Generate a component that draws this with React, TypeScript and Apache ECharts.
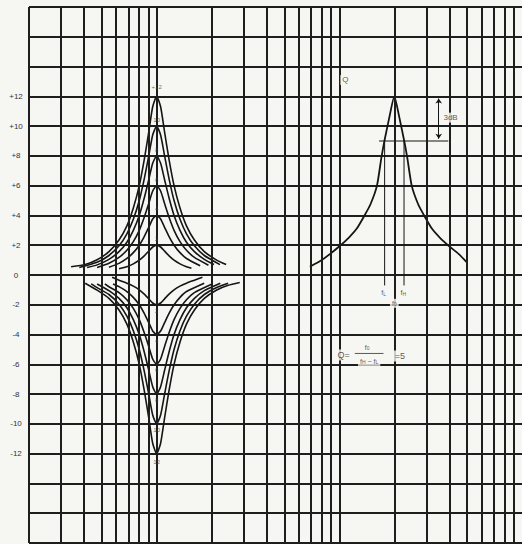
import React, { useEffect, useRef } from 'react';
import * as echarts from 'echarts';

// Log graph paper: vertical rulings (Hz) and level range (dB)
const paperFreqs = [20, 30, 40, 50, 60, 70, 80, 90, 100, 200, 300, 400, 500, 600, 700, 800, 900, 1000, 2000, 3000, 4000, 5000, 6000, 7000, 8000, 9000];
const freqMin = 20;
const freqMax = 10000;
const dbMin = -18;
const dbMax = 18;
const dbStep = 2;
const labelledLimit = 12;

// Boost curves of the 100 Hz band, [Hz, dB]
const boost12 = [[34, 0.55], [40.6, 0.7], [47.2, 1.02], [54.8, 1.57], [62.2, 2.35], [68.7, 3.3], [74.5, 4.5], [80.3, 6.0], [85.5, 7.75], [90.5, 9.6], [95.1, 11.3], [100, 12], [105.1, 11.3], [110.5, 9.6], [116.9, 7.75], [124.5, 6.0], [134.2, 4.5], [145.6, 3.3], [160.9, 2.35], [182.3, 1.57], [211.9, 1.02], [240, 0.7]];
const boost10 = [[37.7, 0.5], [47.2, 0.85], [54.8, 1.31], [62.2, 1.96], [68.7, 2.77], [74.5, 3.74], [80.3, 5.0], [85.5, 6.46], [90.5, 8.0], [95.1, 9.4], [100, 10], [105.1, 9.4], [110.5, 8.0], [116.9, 6.46], [124.5, 5.0], [134.2, 3.74], [145.6, 2.77], [160.9, 1.96], [182.3, 1.31], [222, 0.7]];
const boost8 = [[41.6, 0.5], [47.2, 0.68], [54.8, 1.05], [62.2, 1.57], [68.7, 2.2], [74.5, 3.0], [80.3, 4.0], [85.5, 5.17], [90.5, 6.4], [95.1, 7.5], [100, 8], [105.1, 7.5], [110.5, 6.4], [116.9, 5.17], [124.5, 4.0], [134.2, 3.0], [145.6, 2.2], [160.9, 1.57], [182.3, 1.05], [206, 0.7]];
const boost6 = [[47.2, 0.51], [54.8, 0.79], [62.2, 1.18], [68.7, 1.66], [74.5, 2.24], [80.3, 3.0], [85.5, 3.88], [90.5, 4.8], [95.1, 5.64], [100, 6], [105.1, 5.64], [110.5, 4.8], [116.9, 3.88], [124.5, 3.0], [134.2, 2.24], [145.6, 1.66], [160.9, 1.18], [192, 0.66]];
const boost4 = [[54.8, 0.52], [62.2, 0.78], [68.7, 1.11], [74.5, 1.5], [80.3, 2.0], [85.5, 2.58], [90.5, 3.2], [95.1, 3.76], [100, 4], [105.1, 3.76], [110.5, 3.2], [116.9, 2.58], [124.5, 2.0], [134.2, 1.5], [145.6, 1.11], [173, 0.62]];
const boost2 = [[62.2, 0.42], [68.7, 0.55], [74.5, 0.75], [80.3, 1.0], [85.5, 1.29], [90.5, 1.6], [95.1, 1.88], [100, 2], [105.1, 1.88], [110.5, 1.6], [116.9, 1.29], [124.5, 1.0], [134.2, 0.75], [145.6, 0.55], [155, 0.45]];

// Cut curves of the 100 Hz band, [Hz, dB]
const cut12 = [[40.6, -0.55], [47.2, -1.02], [54.8, -1.57], [62.2, -2.35], [68.7, -3.3], [74.5, -4.5], [80.3, -6.0], [85.5, -7.75], [90.5, -9.6], [95.1, -11.3], [100, -12], [105.1, -11.3], [110.5, -9.6], [116.9, -7.75], [124.5, -6.0], [134.2, -4.5], [145.6, -3.3], [160.9, -2.35], [182.3, -1.57], [211.9, -1.02], [246.3, -0.69], [285, -0.5]];
const cut10 = [[43.8, -0.6], [47.2, -0.85], [54.8, -1.31], [62.2, -1.96], [68.7, -2.77], [74.5, -3.74], [80.3, -5.0], [85.5, -6.46], [90.5, -8.0], [95.1, -9.4], [100, -10], [105.1, -9.4], [110.5, -8.0], [116.9, -6.46], [124.5, -5.0], [134.2, -3.74], [145.6, -2.77], [160.9, -1.96], [182.3, -1.31], [211.9, -0.85], [246, -0.55]];
const cut8 = [[47.2, -0.6], [54.8, -1.05], [62.2, -1.57], [68.7, -2.2], [74.5, -3.0], [80.3, -4.0], [85.5, -5.17], [90.5, -6.4], [95.1, -7.5], [100, -8], [105.1, -7.5], [110.5, -6.4], [116.9, -5.17], [124.5, -4.0], [134.2, -3.0], [145.6, -2.2], [160.9, -1.57], [182.3, -1.05], [223, -0.55]];
const cut6 = [[52, -0.6], [54.8, -0.79], [62.2, -1.18], [68.7, -1.66], [74.5, -2.24], [80.3, -3.0], [85.5, -3.88], [90.5, -4.8], [95.1, -5.64], [100, -6], [105.1, -5.64], [110.5, -4.8], [116.9, -3.88], [124.5, -3.0], [134.2, -2.24], [145.6, -1.66], [160.9, -1.18], [201, -0.6]];
const cut4 = [[57.7, -0.6], [62.2, -0.78], [68.7, -1.11], [74.5, -1.5], [80.3, -2.0], [85.5, -2.58], [90.5, -3.2], [95.1, -3.76], [100, -4], [105.1, -3.76], [110.5, -3.2], [116.9, -2.58], [124.5, -2.0], [134.2, -1.5], [145.6, -1.11], [182, -0.55]];
const cut2 = [[57, -0.15], [62.2, -0.35], [68.7, -0.55], [74.5, -0.75], [80.3, -1.0], [85.5, -1.29], [90.5, -1.6], [95.1, -1.88], [100, -2], [105.1, -1.88], [110.5, -1.6], [116.9, -1.29], [124.5, -1.0], [134.2, -0.75], [145.6, -0.55], [160.9, -0.35], [178, -0.15]];

// Small gain labels at the apexes of the 100 Hz curves
const peakFreq = 100;
const peakLabelText = ['+12', '10', '8', '6', '4', '2', '2', '4', '6', '8', '10', '12'];
const peakLabelDb = [12.6, 10.4, 8.4, 6.4, 4.45, 2.45, -2.4, -4.4, -6.4, -8.4, -10.4, -12.55];

// Q illustration curve at 2 kHz, [Hz, dB]
const qCurve = [[690, 0.55], [802, 1.0], [887, 1.4], [1005, 1.95], [1125, 2.5], [1243, 3.1], [1374, 4.0], [1481, 4.75], [1607, 6.0], [1700, 7.9], [1765, 9.0], [1879, 10.6], [2000, 12], [2129, 10.6], [2266, 9.0], [2353, 7.9], [2490, 6.0], [2701, 4.75], [2911, 4.0], [3218, 3.1], [3557, 2.5], [3981, 1.95], [4512, 1.4], [4988, 0.85]];
const fLow = 1770;
const fHigh = 2260;
const halfPowerDb = 9;
const fLineEndDb = -0.7;
const halfPowerSpan = [1650, 3950];
const arrowFreq = 3500;
const arrowTopDb = 11.85;
const arrowBottomDb = 9.15;
const fractionBar = [1215, 1745];
const fractionBarDb = -5.27;

// Annotation texts (rich-text markup) and their anchors [Hz, dB]
const annotationText = ['{q|Q}', '{t|3dB}', '{a|f}{s|L}', '{a|f}{s|H}', '{a|f}{s|0}', '{b|Q=}', '{a|f}{s|0}', '{a|f}{s|H}{a| − f}{s|L}', '{b|=5}'];
const annotationFreq = [1080, 4063, 1750, 2240, 2000, 1056, 1420, 1457, 2144];
const annotationDb = [13.1, 10.57, -1.2, -1.2, -1.9, -5.37, -4.85, -5.8, -5.44];

const BG = '#f6f6f3';
const INK = '#151515';
const TEXT = '#2e2e2e';

export default function App() {
  const ref = useRef<HTMLDivElement>(null);

  useEffect(() => {
    if (!ref.current) return;
    const chart = echarts.init(ref.current, undefined, { renderer: 'svg' });

    const curveData = [boost12, boost10, boost8, boost6, boost4, boost2, cut12, cut10, cut8, cut6, cut4, cut2];
    const curveSeries = curveData.map((d) => ({
      type: 'line',
      data: d,
      symbol: 'none',
      showSymbol: false,
      smooth: 0.2,
      silent: true,
      z: 4,
      lineStyle: { color: INK, width: 1.6 },
    }));

    const thinLine = (d: number[][], w = 1) => ({
      type: 'line',
      data: d,
      symbol: 'none',
      showSymbol: false,
      silent: true,
      z: 4,
      lineStyle: { color: INK, width: w },
    });

    const tok = (size: number, extra: any = {}) => ({
      fontSize: size,
      color: TEXT,
      fontFamily: 'Liberation Sans',
      textBorderWidth: 0,
      textShadowBlur: 0,
      ...extra,
    });
    const rich = {
      q: tok(8),
      t: tok(8),
      a: tok(7, { verticalAlign: 'bottom' }),
      s: tok(5, { verticalAlign: 'bottom' }),
      b: tok(9),
    };

    const option: any = {
      animation: false,
      backgroundColor: BG,
      grid: { left: 29, top: 7, width: 497, height: 536, containLabel: false },
      xAxis: {
        type: 'log',
        logBase: 10,
        min: freqMin,
        max: freqMax,
        axisLine: { show: false },
        axisTick: { show: false },
        axisLabel: { show: false },
        splitLine: { show: false },
      },
      yAxis: {
        type: 'value',
        min: dbMin,
        max: dbMax,
        interval: dbStep,
        axisLine: { show: false },
        axisTick: { show: false },
        splitLine: { show: true, lineStyle: { color: '#1e1e1e', width: 2 } },
        axisLabel: {
          formatter: (v: number) => (Math.abs(v) <= labelledLimit ? (v > 0 ? '+' + v : String(v)) : ''),
          fontSize: 8,
          color: '#333',
          fontFamily: 'Liberation Sans',
          align: 'center',
          margin: 13,
        },
      },
      series: [
        {
          type: 'line',
          data: [],
          silent: true,
          z: 1,
          markLine: {
            silent: true,
            symbol: ['none', 'none'],
            label: { show: false },
            lineStyle: { color: '#1e1e1e', width: 2, type: 'solid' },
            emphasis: { disabled: true },
            data: paperFreqs.map((f) => ({ xAxis: f })),
          },
        },
        ...curveSeries,
        {
          type: 'line',
          data: qCurve,
          symbol: 'none',
          showSymbol: false,
          smooth: 0.2,
          silent: true,
          z: 4,
          lineStyle: { color: INK, width: 1.8 },
        },
        thinLine([[fLow, halfPowerDb], [fLow, fLineEndDb]], 1),
        thinLine([[fHigh, halfPowerDb], [fHigh, fLineEndDb]], 1),
        thinLine([[halfPowerSpan[0], halfPowerDb], [halfPowerSpan[1], halfPowerDb]], 1.2),
        thinLine([[fractionBar[0], fractionBarDb], [fractionBar[1], fractionBarDb]], 0.7),
        {
          type: 'line',
          data: [],
          silent: true,
          z: 4,
          markLine: {
            silent: true,
            symbol: ['arrow', 'arrow'],
            symbolSize: 5,
            label: { show: false },
            lineStyle: { color: INK, width: 1, type: 'solid' },
            data: [[{ coord: [arrowFreq, arrowTopDb] }, { coord: [arrowFreq, arrowBottomDb] }]],
          },
        },
        {
          type: 'scatter',
          silent: true,
          z: 5,
          symbolSize: 1,
          itemStyle: { color: 'rgba(0,0,0,0)' },
          label: {
            show: true,
            position: 'inside',
            formatter: '{b}',
            fontSize: 6,
            color: '#444',
            textBorderWidth: 0,
            fontFamily: 'Liberation Sans',
          },
          data: peakLabelText.map((t, i) => ({ name: t, value: [peakFreq, peakLabelDb[i]] })),
        },
        {
          type: 'scatter',
          silent: true,
          z: 6,
          symbolSize: 1,
          itemStyle: { color: 'rgba(0,0,0,0)' },
          label: {
            show: true,
            position: 'inside',
            formatter: '{b}',
            color: TEXT,
            textBorderWidth: 0,
            backgroundColor: BG,
            padding: [1, 2],
            rich,
          },
          data: annotationText.map((t, i) => ({ name: t, value: [annotationFreq[i], annotationDb[i]] })),
        },
      ],
    };

    chart.setOption(option);
    return () => chart.dispose();
  }, []);

  return <div ref={ref} style={{ position: 'absolute', left: 0, top: 0, width: 522, height: 544 }} />;
}
